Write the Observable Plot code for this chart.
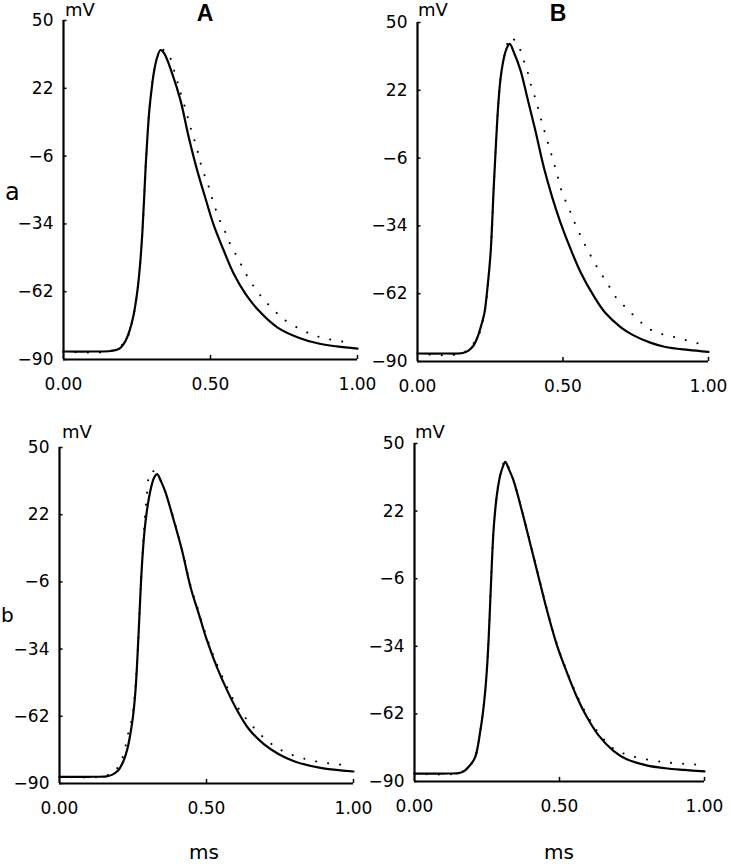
<!DOCTYPE html>
<html>
<head>
<meta charset="utf-8">
<script src="https://cdn.jsdelivr.net/npm/d3@7"></script>
<script src="https://cdn.jsdelivr.net/npm/@observablehq/plot@0.6"></script>
<style>
  html, body { margin: 0; padding: 0; background: white; }
  #root { position: relative; width: 731px; height: 864px; background: white; overflow: hidden; }
  .panel { position: absolute; }
  #overlay { position: absolute; left: 0; top: 0; pointer-events: none; }
</style>
</head>
<body>
<div id="root"></div>
<script>
// ---- tick labels ----
const xTicks = [0, 0.5, 1];
const yTicks = [50, 22, -6, -34, -62, -90];
const xInnerTicks = [0.5, 1];

// ---- Panel A-a ----
const AaSolidT = [0,0.1,0.16,0.19,0.21,0.225,0.236,0.245,0.253,0.261,0.268,0.274,0.28,0.286,0.292,0.3,0.308,0.318,0.33,0.342,0.37,0.398,0.426,0.455,0.483,0.511,0.545,0.579,0.619,0.664,0.727,0.80,0.864,0.93,1.0];
const AaSolidV = [-86.7,-86.7,-86.5,-85.5,-82.5,-78,-73,-67,-60,-50,-38,-24,-9,3,13,22,29,34.5,37.8,36.5,28,17,1.8,-12,-23.5,-34.5,-45,-54.6,-62.9,-69.8,-76.7,-81,-83.3,-84.6,-85.5];
const AaDotT = [0,0.16,0.21,0.236,0.253,0.268,0.28,0.292,0.308,0.33,0.353,0.381,0.396,0.418,0.43,0.443,0.455,0.466,0.48,0.494,0.506,0.52,0.537,0.554,0.571,0.593,0.613,0.634,0.661,0.685,0.715,0.745,0.806,0.86,0.918,0.976];
const AaDotV = [-86.7,-86.5,-82.5,-73,-60,-38,-9,13,29,37.8,36.9,27.3,21.1,12.1,6.6,1.5,-3.4,-8.9,-14,-18.6,-23.6,-28.8,-34,-38.4,-43.4,-48,-53,-57.4,-62.2,-65.7,-69.5,-73,-77.5,-80.3,-82,-83];

// ---- Panel B-a ----
const BaSolidT = [0,0.1,0.155,0.175,0.192,0.206,0.218,0.23,0.24,0.251,0.262,0.268,0.274,0.28,0.286,0.293,0.30,0.308,0.317,0.33,0.354,0.377,0.405,0.434,0.463,0.491,0.526,0.56,0.606,0.646,0.70,0.739,0.80,0.852,0.93,1.0];
const BaSolidV = [-86.7,-86.7,-86.5,-85.5,-83.5,-80,-75.5,-70,-60,-45.5,-18,-4,9.5,20,27.5,33,37,39.8,41.2,38,30.2,19.1,5.4,-9.8,-22.2,-32.5,-43.5,-53,-63,-70,-76,-79,-82.2,-84,-85.2,-86];
const BaDotT = [0,0.155,0.206,0.23,0.251,0.262,0.274,0.286,0.30,0.32,0.348,0.363,0.377,0.388,0.402,0.414,0.425,0.438,0.451,0.463,0.475,0.487,0.499,0.518,0.532,0.551,0.569,0.589,0.612,0.635,0.657,0.68,0.709,0.737,0.806,0.886,0.966];
const BaDotV = [-86.7,-86.5,-80,-70,-45.5,-18,9.5,27.5,37,43.9,40,35,30.2,24.9,19.8,14.8,9.8,4.4,-0.8,-5.6,-10.7,-16,-21,-26,-30.4,-35.6,-40.3,-44.9,-50,-54.5,-58.6,-63.2,-66.9,-70.3,-77.2,-80,-82.6];

// ---- Panel A-b ----
const AbSolidT = [0,0.1,0.16,0.18,0.2,0.218,0.231,0.241,0.25,0.258,0.264,0.27,0.276,0.282,0.289,0.296,0.309,0.322,0.332,0.345,0.36,0.389,0.417,0.446,0.474,0.502,0.536,0.571,0.605,0.644,0.695,0.746,0.80,0.888,1.0];
const AbSolidV = [-87.2,-87.2,-87,-86.3,-84.5,-80.5,-75.5,-69.4,-62,-52,-40,-25,-9,4,15,22.5,32,37.5,38.9,36,31.5,19.5,7,-8.3,-19.4,-30.5,-41.7,-51.4,-59.7,-67.3,-73.6,-77.8,-80.8,-83.5,-85];
const AbDotT = [0,0.15,0.19,0.215,0.232,0.247,0.258,0.265,0.272,0.279,0.286,0.295,0.311,0.33,0.345,0.36,0.389,0.417,0.446,0.474,0.502,0.536,0.571,0.605,0.65,0.707,0.76,0.82,0.88,0.933,0.985];
const AbDotV = [-87.2,-87,-84.5,-79,-70,-62.5,-50,-37,-20,-2,13,27,40,39.5,36,31.5,20,7.5,-7.5,-18.5,-29.5,-40.5,-50,-58,-65.2,-72.2,-76.5,-79.2,-81,-81.8,-82.5];

// ---- Panel B-b ----
const BbSolidT = [0,0.1,0.152,0.17,0.19,0.209,0.227,0.236,0.244,0.25,0.256,0.262,0.267,0.272,0.278,0.285,0.295,0.305,0.313,0.325,0.341,0.37,0.399,0.428,0.457,0.491,0.526,0.56,0.594,0.634,0.686,0.732,0.80,0.864,0.93,1.0];
const BbSolidV = [-86.7,-86.7,-86.5,-85.8,-83.5,-80,-69,-61.5,-52.4,-43,-30,-13,1,13,22,29.5,36.5,40.5,42.4,39.5,34.8,22.3,8.5,-5.4,-19.2,-33.5,-45,-55,-63.2,-70.8,-77.3,-80.8,-83.3,-84.5,-85.2,-85.8];
const BbDotT = [0,0.152,0.19,0.209,0.227,0.244,0.256,0.262,0.267,0.272,0.285,0.295,0.313,0.325,0.341,0.37,0.399,0.428,0.457,0.491,0.526,0.56,0.594,0.634,0.686,0.75,0.864,0.95,0.98];
const BbDotV = [-86.7,-86.5,-83.5,-80,-69,-52.4,-30,-13,1,13,30,37,43,40,35,22.5,9,-5,-18.8,-33,-44.4,-54.3,-62.3,-69.8,-76.3,-79.5,-82,-82.8,-83];

// ---- text ----
const colLabels = ["A", "B"];
const rowLabels = ["a", "b"];
const yUnit = "mV";
const xUnit = "ms";

function rows(t, v) { return t.map((d, i) => ({t: d, v: v[i]})); }
const fmtY = d => d < 0 ? "\u2212" + (-d) : String(d);
const fmtX = d3.format(".2f");

const panels = [
  {left: 0,   top: 0,   width: 365, height: 400, ml: 63, mr: 8,  mt: 20, mb: 41, s: [AaSolidT, AaSolidV], d: [AaDotT, AaDotV]},
  {left: 365, top: 0,   width: 366, height: 400, ml: 52, mr: 23, mt: 22, mb: 39, s: [BaSolidT, BaSolidV], d: [BaDotT, BaDotV]},
  {left: 0,   top: 420, width: 365, height: 400, ml: 59, mr: 12, mt: 27, mb: 37, s: [AbSolidT, AbSolidV], d: [AbDotT, AbDotV]},
  {left: 365, top: 420, width: 366, height: 400, ml: 49, mr: 27, mt: 23, mb: 39, s: [BbSolidT, BbSolidV], d: [BbDotT, BbDotV]}
];

const root = document.getElementById("root");

for (const p of panels) {
  const chart = Plot.plot({
    width: p.width,
    height: p.height,
    marginLeft: p.ml, marginRight: p.mr, marginTop: p.mt, marginBottom: p.mb,
    style: {fontFamily: "DejaVu Sans", fontSize: "17px", color: "black", background: "transparent", overflow: "visible"},
    x: {domain: [0, 1]},
    y: {domain: [-90, 50]},
    marks: [
      Plot.axisY(yTicks, {tickSize: 0, tickPadding: 10, tickFormat: fmtY, label: null, fontSize: 17}),
      Plot.axisX(xTicks, {tickSize: 0, tickPadding: 18, tickFormat: fmtX, label: null, fontSize: 17}),
      Plot.ruleX([0], {stroke: "black", strokeWidth: 2.2}),
      Plot.ruleY([-90], {stroke: "black", strokeWidth: 2.2}),
      Plot.ruleY(yTicks, {x1: 0, x2: 0.012, stroke: "black", strokeWidth: 1.5}),
      Plot.ruleX(xInnerTicks, {y1: -90, y2: -88.3, stroke: "black", strokeWidth: 1.5}),
      Plot.line(rows(p.d[0], p.d[1]), {x: "t", y: "v", curve: "catmull-rom", stroke: "black", strokeWidth: 2, strokeDasharray: "0.1 12", strokeLinecap: "round"}),
      Plot.line(rows(p.s[0], p.s[1]), {x: "t", y: "v", curve: "catmull-rom", stroke: "black", strokeWidth: 2.2})
    ]
  });
  const div = document.createElement("div");
  div.className = "panel";
  div.style.left = p.left + "px";
  div.style.top = p.top + "px";
  div.appendChild(chart);
  root.appendChild(div);
}

// overlay text
const ns = "http://www.w3.org/2000/svg";
const svg = document.createElementNS(ns, "svg");
svg.setAttribute("id", "overlay");
svg.setAttribute("width", 731);
svg.setAttribute("height", 864);
function addText(txt, x, y, opts) {
  const t = document.createElementNS(ns, "text");
  t.setAttribute("x", x);
  t.setAttribute("y", y);
  t.setAttribute("font-family", opts.family || "DejaVu Sans");
  t.setAttribute("font-size", opts.size);
  if (opts.weight) t.setAttribute("font-weight", opts.weight);
  if (opts.anchor) t.setAttribute("text-anchor", opts.anchor);
  t.setAttribute("fill", "black");
  t.textContent = txt;
  svg.appendChild(t);
}
addText(colLabels[0], 205, 21, {family: "Liberation Sans", size: 23, weight: "bold", anchor: "middle"});
addText(colLabels[1], 558, 21, {family: "Liberation Sans", size: 23, weight: "bold", anchor: "middle"});
addText(rowLabels[0], 5, 200, {size: 24});
addText(rowLabels[1], 1, 622, {size: 20});
addText(yUnit, 65, 16, {size: 18});
addText(yUnit, 418, 16, {size: 18});
addText(yUnit, 62, 438, {size: 18});
addText(yUnit, 415, 438, {size: 18});
addText(xUnit, 204, 859, {size: 20, anchor: "middle"});
addText(xUnit, 559, 859, {size: 20, anchor: "middle"});
root.appendChild(svg);
</script>
</body>
</html>
